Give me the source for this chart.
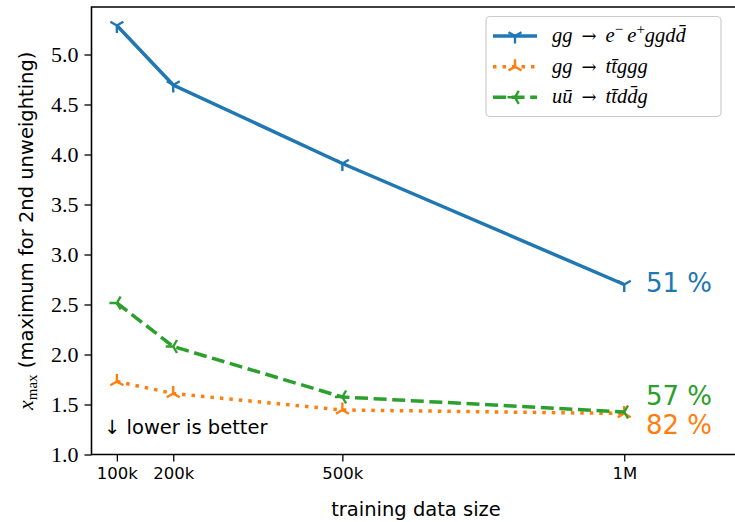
<!DOCTYPE html>
<html>
<head>
<meta charset="utf-8">
<script src="https://cdn.jsdelivr.net/npm/d3@7"></script>
<style>
  body { margin: 0; background: #fff; }
  svg { display: block; }
</style>
</head>
<body>
<div id="wrapper"></div>
<script>
// training data sizes (in thousands)
let trainingSizes = [100, 200, 500, 1000];
let xTickLabels = ["100k", "200k", "500k", "1M"];
let yTicks = [1.0, 1.5, 2.0, 2.5, 3.0, 3.5, 4.0, 4.5, 5.0];

let eeggddValues = [5.29, 4.695, 3.91, 2.70];
let ttgggValues = [1.73, 1.61, 1.445, 1.41];
let uuttddgValues = [2.515, 2.08, 1.575, 1.425];

let seriesNames = ["eeggdd", "ttggg", "uuttddg"];
let efficiencyLabels = ["51 %", "82 %", "57 %"];

let dimensions = {
  width: 735,
  height: 522,
  margin: { top: 7, right: -2, bottom: 67.5, left: 91.5 }
};

let sansFont = "'DejaVu Sans', Lato, sans-serif";
let serifFont = "'Liberation Serif', 'DejaVu Serif', serif";

let colors = ["#1f77b4", "#ff7f0e", "#2ca02c"];
let dashes = [null, "3.5,6", "13,5.6"];
let markerTypes = ["tri_down", "tri_up", "tri_left"];

function triPath(type, r) {
  // arm angles in screen coords (y down)
  let angles;
  if (type == "tri_down") angles = [90, 210, 330];
  else if (type == "tri_up") angles = [270, 30, 150];
  else angles = [180, 300, 60];
  return angles
    .map(a => {
      let rad = (a * Math.PI) / 180;
      return `M0,0L${(r * Math.cos(rad)).toFixed(2)},${(r * Math.sin(rad)).toFixed(2)}`;
    })
    .join("");
}

function drawChart() {
  let series = [eeggddValues, ttgggValues, uuttddgValues];

  let wrapper = d3
    .select("#wrapper")
    .append("svg")
    .attr("width", dimensions.width)
    .attr("height", dimensions.height);

  let xScale = d3
    .scaleLinear()
    .domain([55, 1200])
    .range([dimensions.margin.left, dimensions.width - dimensions.margin.right]);

  let yScale = d3
    .scaleLinear()
    .domain([1.0, 5.475])
    .range([dimensions.height - dimensions.margin.bottom, dimensions.margin.top]);

  // axes
  let xAxis = wrapper
    .append("g")
    .attr("transform", `translate(0, ${yScale(1.0)})`)
    .call(
      d3
        .axisBottom(xScale)
        .tickValues(trainingSizes)
        .tickFormat((d, i) => xTickLabels[i])
        .tickSize(7)
        .tickPadding(6)
    );
  xAxis.select(".domain").remove();
  xAxis
    .selectAll("text")
    .attr("font-family", sansFont)
    .attr("font-size", "16.5px")
    .attr("fill", "#000");
  xAxis.selectAll("line").attr("stroke", "#000").attr("stroke-width", 1.3);

  let yAxis = wrapper
    .append("g")
    .attr("transform", `translate(${dimensions.margin.left}, 0)`)
    .call(
      d3
        .axisLeft(yScale)
        .tickValues(yTicks)
        .tickFormat(d3.format(".1f"))
        .tickSize(7)
        .tickPadding(6)
    );
  yAxis.select(".domain").remove();
  yAxis
    .selectAll("text")
    .attr("font-family", serifFont)
    .attr("font-size", "22px")
    .attr("fill", "#000");
  yAxis.selectAll("line").attr("stroke", "#000").attr("stroke-width", 1.3);

  // spines
  let xLeft = xScale.range()[0];
  let xRight = xScale.range()[1];
  let yTop = yScale.range()[1];
  let yBottom = yScale.range()[0];
  wrapper
    .append("path")
    .attr("d", `M${xRight},${yTop}H${xLeft}V${yBottom}H${xRight}V${yTop}`)
    .attr("fill", "none")
    .attr("stroke", "#000")
    .attr("stroke-width", 1.6);

  // lines + markers
  series.forEach((values, s) => {
    let points = values.map((v, i) => [trainingSizes[i], v]);
    let line = d3
      .line()
      .x(d => xScale(d[0]))
      .y(d => yScale(d[1]));

    wrapper
      .append("path")
      .datum(points)
      .attr("d", line)
      .attr("fill", "none")
      .attr("stroke", colors[s])
      .attr("stroke-width", 3.5)
      .attr("stroke-dasharray", dashes[s]);

    wrapper
      .append("g")
      .selectAll("path")
      .data(points)
      .join("path")
      .attr("transform", d => `translate(${xScale(d[0])}, ${yScale(d[1])})`)
      .attr("d", triPath(markerTypes[s], 7.5))
      .attr("fill", "none")
      .attr("stroke", colors[s])
      .attr("stroke-width", 2.4);
  });

  // efficiency labels to the right of the last point
  let labelY = [2.63, 1.205, 1.495];
  efficiencyLabels.forEach((label, s) => {
    wrapper
      .append("text")
      .attr("x", 646)
      .attr("y", yScale(labelY[s]))
      .attr("font-family", sansFont)
      .attr("font-size", "26px")
      .attr("fill", colors[s])
      .text(label);
  });

  // lower is better
  wrapper
    .append("text")
    .attr("x", 104)
    .attr("y", 434)
    .attr("font-family", sansFont)
    .attr("font-size", "19.5px")
    .attr("fill", "#000")
    .text("↓ lower is better");

  // x label
  wrapper
    .append("text")
    .attr("x", 416)
    .attr("y", 516)
    .attr("text-anchor", "middle")
    .attr("font-family", sansFont)
    .attr("font-size", "19.5px")
    .attr("fill", "#000")
    .text("training data size");

  // y label
  let yLabel = wrapper
    .append("text")
    .attr("transform", `translate(33, ${(yTop + yBottom) / 2}) rotate(-90)`)
    .attr("text-anchor", "middle")
    .attr("font-size", "19.5px")
    .attr("fill", "#000");
  yLabel
    .append("tspan")
    .attr("font-family", serifFont)
    .attr("font-style", "italic")
    .attr("font-size", "22px")
    .text("x");
  yLabel
    .append("tspan")
    .attr("font-family", serifFont)
    .attr("font-size", "15px")
    .attr("dy", 4)
    .text("max");
  yLabel
    .append("tspan")
    .attr("font-family", sansFont)
    .attr("dy", -4)
    .text(" (maximum for 2nd unweighting)");

  // legend
  let legend = wrapper.append("g");
  legend
    .append("rect")
    .attr("x", 486)
    .attr("y", 16.5)
    .attr("width", 235)
    .attr("height", 100)
    .attr("rx", 4)
    .attr("fill", "#fff")
    .attr("fill-opacity", 0.8)
    .attr("stroke", "#cccccc")
    .attr("stroke-width", 1.2);

  let legendRows = [36, 66.7, 97.3];
  // legend labels as [text, style] parts; "sup" = superscript, "rel" = upright arrow
  let legendParts = [
    [["gg", ""], ["\u2002→\u2002", "rel"], ["e", ""], ["−", "sup"], ["\u2009e", ""], ["+", "sup"], ["ggd", ""], ["d\u0304", ""]],
    [["gg", ""], ["\u2002→\u2002", "rel"], ["t", ""], ["t\u0304", ""], ["ggg", ""]],
    [["u", ""], ["u\u0304", ""], ["\u2002→\u2002", "rel"], ["t", ""], ["t\u0304", ""], ["d", ""], ["d\u0304", ""], ["g", ""]]
  ];

  seriesNames.forEach((name, s) => {
    let y = legendRows[s];
    legend
      .append("line")
      .attr("x1", 493)
      .attr("x2", 537)
      .attr("y1", y)
      .attr("y2", y)
      .attr("stroke", colors[s])
      .attr("stroke-width", 3.5)
      .attr("stroke-dasharray", dashes[s]);
    legend
      .append("path")
      .attr("transform", `translate(515, ${y})`)
      .attr("d", triPath(markerTypes[s], 7.5))
      .attr("fill", "none")
      .attr("stroke", colors[s])
      .attr("stroke-width", 2.4);

    let text = legend
      .append("text")
      .attr("x", 552)
      .attr("y", y + 6)
      .attr("font-family", serifFont)
      .attr("font-style", "italic")
      .attr("font-size", "20.5px")
      .attr("fill", "#000");
    let shift = 0;
    legendParts[s].forEach(([t, style]) => {
      let dy = 0;
      if (style == "sup" && shift == 0) {
        dy = -8;
        shift = -8;
      } else if (style != "sup" && shift != 0) {
        dy = 8;
        shift = 0;
      }
      let span = text.append("tspan").attr("dy", dy).text(t);
      if (style == "sup") span.attr("font-size", "15px").attr("font-style", "normal");
      if (style == "rel") span.attr("font-style", "normal").attr("font-family", "'DejaVu Serif', serif").attr("font-size", "18px");
    });
  });
}

drawChart();
</script>
</body>
</html>
